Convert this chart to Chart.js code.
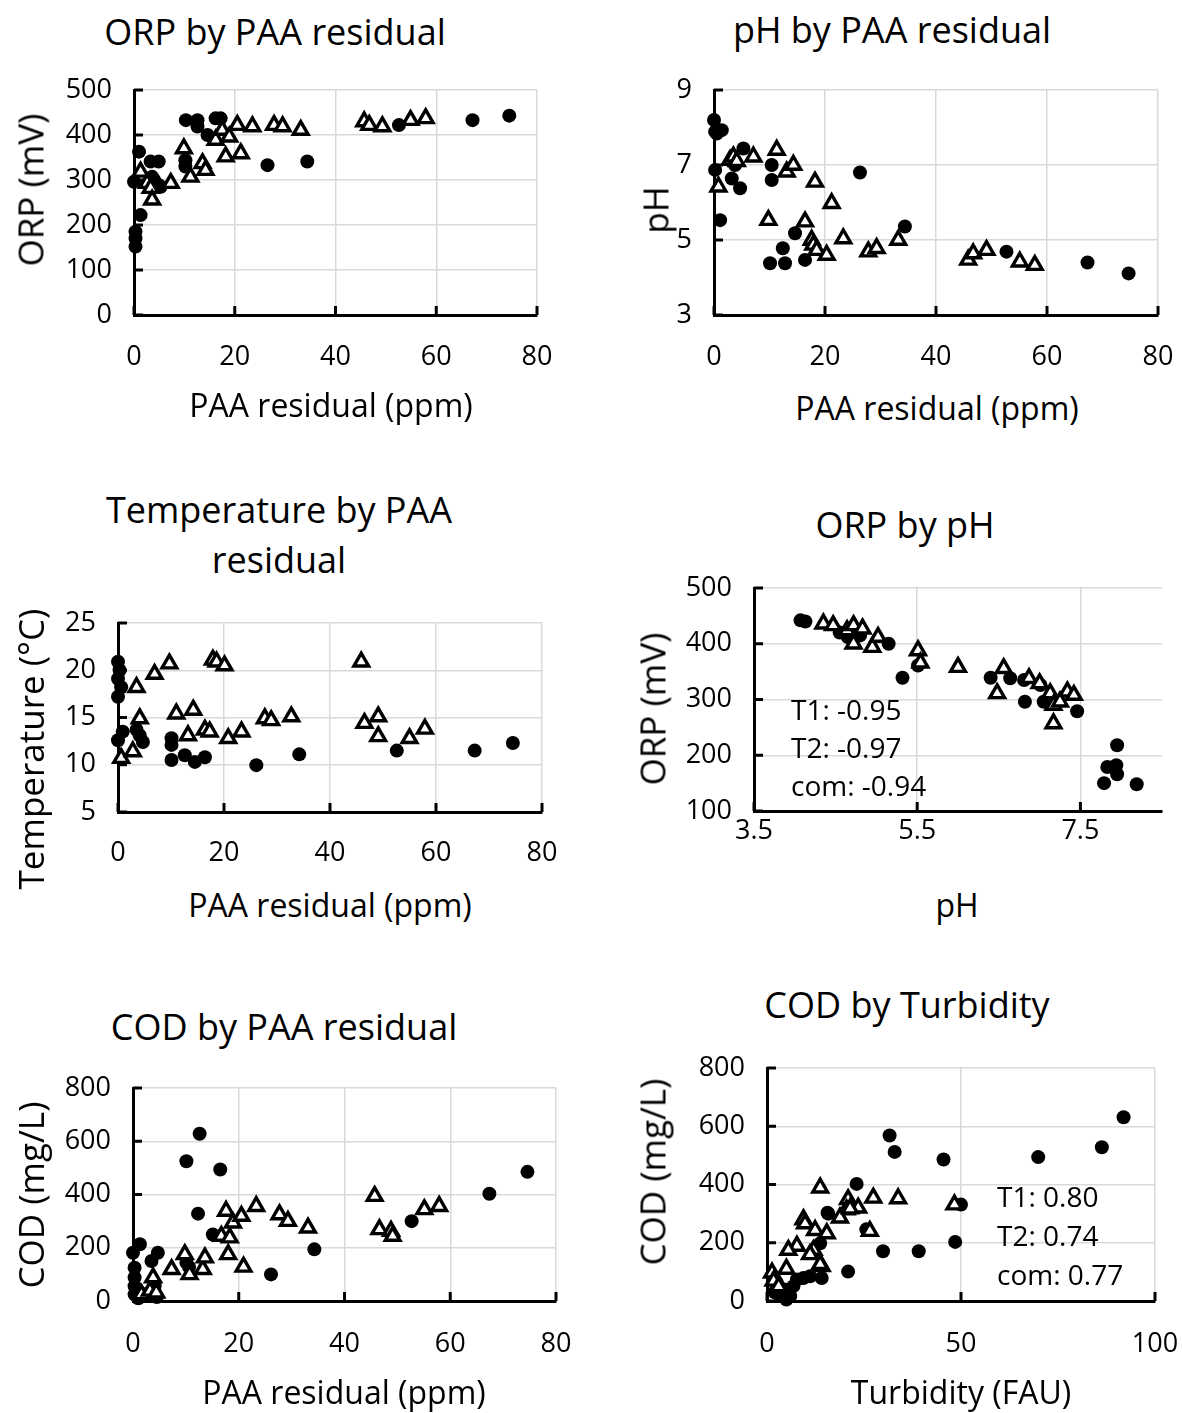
<!DOCTYPE html>
<html lang="en">
<head>
  <meta charset="UTF-8">
  <title>PAA residual scatter plots</title>
  <script src="https://cdn.jsdelivr.net/npm/chart.js"></script>
  <style>
    html, body { margin: 0; padding: 0; background: #fff; overflow: hidden; }
    body { position: relative; width: 1182px; height: 1413px; font-family: "Open Sans", sans-serif; color: #000; }
    canvas { position: absolute; }
    .lbl { position: absolute; white-space: nowrap; line-height: 1; transform: translate(-50%, -50%); }
    .title { font-size: 36px; }
    .axis { font-size: 32px; }
    .vert { font-size: 35px; transform: translate(-50%, -50%) rotate(-90deg); }
  </style>
</head>
<body>
<canvas id="c1"></canvas>
<canvas id="c2"></canvas>
<canvas id="c3"></canvas>
<canvas id="c4"></canvas>
<canvas id="c5"></canvas>
<canvas id="c6"></canvas>

<script>
  // ---- data (T1 = filled circles, T2 = open triangles) ----
  // ORP (mV) by PAA residual (ppm)
  const orpPaaT1 = [[0.3,152],[0.3,170],[0.3,185],[0,296],[1,363],[1.3,222],[3.3,341],[4.9,341],[3.6,307],[4,300],[4.9,289],[5.3,285],[10.2,344],[10.2,330],[10.3,433],[12.6,433],[12.6,419],[14.6,400],[16.2,437],[17.2,437],[26.5,333],[34.4,341],[52.6,422],[67.2,433],[74.5,443]];
  const orpPaaT2 = [[1.3,318],[2.6,293],[3.3,282],[3.6,256],[7.3,293],[9.9,370],[11.2,307],[13.6,337],[14.2,322],[16.2,389],[17.5,411],[18.2,352],[18.9,396],[20.5,422],[21.2,359],[23.5,419],[27.8,422],[29.5,419],[33.1,411],[45.7,430],[46.7,422],[49.3,419],[54.9,433],[57.9,437]];

  // pH by PAA residual
  const phPaaT1 = [[0,8.2],[0.2,7.89],[1.4,7.93],[0.5,7.84],[5.3,7.44],[0.2,6.87],[3.8,7.0],[3.2,6.64],[4.7,6.38],[10.4,7.0],[10.4,6.6],[1.1,5.53],[26.3,6.8],[14.6,5.18],[12.4,4.78],[10.1,4.38],[12.8,4.38],[16.4,4.47],[34.4,5.36],[52.7,4.69],[67.3,4.4],[74.7,4.11]];
  const phPaaT2 = [[0.8,6.42],[2.9,7.13],[3.5,7.22],[4.1,7.1],[7.1,7.22],[11.3,7.4],[13.1,6.82],[14.3,7.0],[18.2,6.55],[21.2,5.98],[9.8,5.53],[16.4,5.49],[17.6,5.0],[17.9,4.87],[18.5,4.73],[20.3,4.6],[23.3,5.04],[27.8,4.69],[29.3,4.78],[33.2,5.0],[45.8,4.47],[46.7,4.64],[49.1,4.73],[55.1,4.42],[57.8,4.33]];

  // Temperature (°C) by PAA residual
  const tempPaaT1 = [[0,20.9],[0.3,20],[0,19.1],[0.6,18.2],[0,17.2],[0.9,13.5],[0,12.6],[3.5,13.7],[4.1,13.1],[4.7,12.4],[10.1,12.8],[10.1,12.1],[10.1,10.5],[12.6,11],[14.5,10.3],[16.4,10.8],[26.1,9.96],[34.2,11.1],[52.6,11.5],[67.3,11.5],[74.5,12.3]];
  const tempPaaT2 = [[0.6,10.7],[2.8,11.4],[3.5,18.2],[4.1,14.9],[6.9,19.6],[9.7,20.7],[11,15.4],[14.2,15.8],[13.2,13.1],[16.4,13.7],[17.3,13.5],[17.9,21.1],[18.6,20.9],[20.1,20.5],[20.8,12.8],[23.3,13.5],[27.7,14.9],[28.9,14.7],[32.7,15.1],[45.9,20.9],[46.5,14.4],[49.1,15.1],[49.1,13],[55,12.8],[57.9,13.8]];

  // ORP (mV) by pH
  const orpPhT1 = [[4.07,442],[4.13,440],[4.55,420],[4.65,412],[4.8,415],[5.15,400],[5.32,339],[5.51,361],[6.4,339],[6.64,338],[6.81,335],[7.01,326],[6.82,296],[7.05,296],[7.46,279],[7.95,218],[7.83,179],[7.94,182],[7.95,166],[7.79,150],[8.19,148]];
  const orpPhT2 = [[4.35,436],[4.47,433],[4.64,424],[4.72,433],[4.83,427],[4.72,400],[4.95,394],[5.02,412],[5.51,388],[5.54,366],[6.0,358],[6.48,311],[6.56,356],[6.87,338],[7.0,329],[7.13,311],[7.17,290],[7.17,257],[7.34,314],[7.42,308],[7.25,296]];

  // COD (mg/L) by PAA residual
  const codPaaT1 = [[12.6,628],[10.1,525],[16.5,494],[12.3,328],[15.1,250],[1.3,213],[0,181],[4.7,181],[3.5,150],[10.1,144],[10.6,128],[0.3,125],[0.3,88],[0.3,56],[0.3,25],[4.1,56],[2.2,25],[4.5,15],[1,10],[26.1,100],[34.3,194],[52.7,300],[67.4,403],[74.6,485]];
  const codPaaT2 = [[1.6,25],[3.2,38],[3.8,88],[4.4,31],[7.3,119],[9.8,175],[10.7,100],[13.2,119],[13.6,163],[16.7,244],[17.6,338],[18,175],[18.3,238],[18.9,294],[20.5,319],[20.9,128],[23.3,356],[27.7,325],[29.3,300],[33.1,275],[45.7,394],[46.6,269],[48.8,263],[49.1,244],[55.1,344],[57.9,356]];

  // COD (mg/L) by Turbidity (FAU)
  const codTurbT1 = [[91.9,631],[86.3,528],[69.9,494],[45.5,486],[31.6,568],[32.9,512],[23.1,402],[15.6,303],[15.8,300],[13.7,198],[25.6,246],[29.9,171],[39.1,171],[48.5,203],[50,331],[20.9,101],[14.1,79],[11.1,85],[9.4,79],[7.7,74],[6.8,51],[4.3,40],[2.6,62],[3.4,17],[6,17],[2,30],[5,5]];
  const codTurbT2 = [[13.7,389],[27.4,354],[33.8,352],[48.3,331],[20.9,349],[20.5,314],[23.5,320],[18.8,286],[21.4,317],[9.4,280],[9.8,266],[12.4,243],[15.4,232],[26.5,240],[7.7,189],[5.5,175],[12,175],[11.1,160],[14.1,119],[13.7,126],[1.3,97],[1.7,69],[3,50],[5,110]];

  // tick values
  const paaTicks  = [0, 20, 40, 60, 80];
  const turbTicks = [0, 50, 100];
  const phXTicks  = [3.5, 5.5, 7.5];
  const orpTicks  = [0, 100, 200, 300, 400, 500];
  const orp4Ticks = [100, 200, 300, 400, 500];
  const phTicks   = [3, 5, 7, 9];
  const tempTicks = [5, 10, 15, 20, 25];
  const codTicks  = [0, 200, 400, 600, 800];

  // correlation notes
  const orpPhNotes  = ['T1: -0.95', 'T2: -0.97', 'com: -0.94'];
  const codTurbNotes = ['T1: 0.80', 'T2: 0.74', 'com: 0.77'];

  const FONT = '"Open Sans", sans-serif';
  const GRID = '#d9d9d9';

  // 軸の内側に目盛り線
  const innerTicks = {
    id: 'innerTicks',
    beforeDatasetsDraw(chart) {
      const { ctx, chartArea: a, scales: { x, y } } = chart;
      ctx.save();
      ctx.strokeStyle = '#000';
      ctx.lineWidth = 3;
      ctx.beginPath();
      x.ticks.forEach(t => { const p = x.getPixelForValue(t.value); ctx.moveTo(p, a.bottom); ctx.lineTo(p, a.bottom - 9); });
      y.ticks.forEach(t => { const p = y.getPixelForValue(t.value); ctx.moveTo(a.left, p); ctx.lineTo(a.left + 9, p); });
      ctx.stroke();
      ctx.restore();
    }
  };

  const notes = {
    id: 'notes',
    afterDatasetsDraw(chart, args, opts) {
      if (!opts.lines) return;
      const { ctx, chartArea: a } = chart;
      ctx.save();
      ctx.font = '28px ' + FONT;
      ctx.fillStyle = '#000';
      ctx.textAlign = 'left';
      ctx.textBaseline = 'middle';
      opts.lines.forEach((t, i) => ctx.fillText(t, a.left + opts.dx, a.top + opts.dy + i * opts.step));
      ctx.restore();
    }
  };

  const toXY = arr => arr.map(p => ({ x: p[0], y: p[1] }));

  function label(text, x, y, cls) {
    const d = document.createElement('div');
    d.className = 'lbl ' + cls;
    d.textContent = text;
    d.style.left = x + 'px';
    d.style.top = y + 'px';
    document.body.appendChild(d);
  }

  // rect = plot area [left, top, right, bottom] on the page
  function makePanel(id, rect, xr, yr, xt, yt, t1, t2, xPad, note) {
    const [L, T, R, B] = rect;
    const yW = 100, xH = 70, padT = 20, padR = 24;
    const cv = document.getElementById(id);
    cv.style.left = (L - yW) + 'px';
    cv.style.top = (T - padT) + 'px';
    cv.width = Math.round(R - L + yW + padR);
    cv.height = Math.round(B - T + padT + xH);

    const tickFont = { family: FONT, size: 27 };
    new Chart(cv.getContext('2d'), {
      type: 'scatter',
      data: {
        datasets: [
          { label: 'T2', data: toXY(t2), pointStyle: 'triangle', radius: 8.5, borderWidth: 3.4,
            backgroundColor: '#fff', borderColor: '#000', clip: false },
          { label: 'T1', data: toXY(t1), pointStyle: 'circle', radius: 7, borderWidth: 0,
            backgroundColor: '#000', borderColor: '#000', clip: false }
        ]
      },
      options: {
        responsive: false,
        animation: false,
        layout: { padding: { left: 0, top: padT, right: padR, bottom: 0 } },
        plugins: {
          legend: { display: false },
          tooltip: { enabled: false },
          notes: note || {}
        },
        scales: {
          x: {
            type: 'linear', min: xr[0], max: xr[1],
            afterBuildTicks: s => { s.ticks = xt.map(v => ({ value: v })); },
            afterFit: s => { s.height = xH; s.paddingLeft = 0; s.paddingRight = 0; },
            grid: { color: GRID, lineWidth: 1.5, drawTicks: false },
            border: { color: '#000', width: 3 },
            ticks: { font: tickFont, color: '#000', padding: xPad, maxRotation: 0, autoSkip: false,
                     callback: v => String(v) }
          },
          y: {
            type: 'linear', min: yr[0], max: yr[1],
            afterBuildTicks: s => { s.ticks = yt.map(v => ({ value: v })); },
            afterFit: s => { s.width = yW; s.paddingTop = 0; s.paddingBottom = 0; },
            grid: { color: GRID, lineWidth: 1.5, drawTicks: false },
            border: { color: '#000', width: 3 },
            ticks: { font: tickFont, color: '#000', padding: 22, autoSkip: false,
                     callback: v => String(v) }
          }
        }
      },
      plugins: [innerTicks, notes]
    });
  }

  makePanel('c1', [133.5, 90, 536, 315], [0, 80], [0, 500], paaTicks, orpTicks, orpPaaT1, orpPaaT2, 26);
  makePanel('c2', [714, 90, 1158, 315], [0, 80], [3, 9], paaTicks, phTicks, phPaaT1, phPaaT2, 26);
  makePanel('c3', [118.3, 622.7, 542.3, 811.7], [0, 80], [5, 25], paaTicks, tempTicks, tempPaaT1, tempPaaT2, 25);
  makePanel('c4', [754, 587.7, 1162, 811], [3.5, 8.5], [100, 500], phXTicks, orp4Ticks, orpPhT1, orpPhT2, 4,
            { lines: orpPhNotes, dx: 37, dy: 124, step: 38 });
  makePanel('c5', [133.3, 1088.3, 556.7, 1301.7], [0, 80], [0, 800], paaTicks, codTicks, codPaaT1, codPaaT2, 27);
  makePanel('c6', [766.7, 1068.3, 1155, 1301.7], [0, 100], [0, 800], turbTicks, codTicks, codTurbT1, codTurbT2, 27,
            { lines: codTurbNotes, dx: 230, dy: 131, step: 39 });

  // titles
  label('ORP by PAA residual', 275, 32, 'title');
  label('pH by PAA residual', 892, 30, 'title');
  label('Temperature by PAA', 279, 510, 'title');
  label('residual', 279, 560, 'title');
  label('ORP by pH', 905, 525, 'title');
  label('COD by PAA residual', 284, 1027, 'title');
  label('COD by Turbidity', 907, 1005, 'title');

  // axis titles
  label('PAA residual (ppm)', 331, 405, 'axis');
  label('ORP (mV)', 30, 190, 'axis vert');
  label('PAA residual (ppm)', 937, 408, 'axis');
  label('pH', 655, 210, 'axis vert');
  label('PAA residual (ppm)', 330, 905, 'axis');
  label('Temperature (°C)', 30, 749, 'axis vert');
  label('pH', 957, 905, 'axis');
  label('ORP (mV)', 652, 709, 'axis vert');
  label('PAA residual (ppm)', 344, 1392, 'axis');
  label('COD (mg/L)', 30, 1195, 'axis vert');
  label('Turbidity (FAU)', 961, 1392, 'axis');
  label('COD (mg/L)', 652, 1172, 'axis vert');
</script>
</body>
</html>
